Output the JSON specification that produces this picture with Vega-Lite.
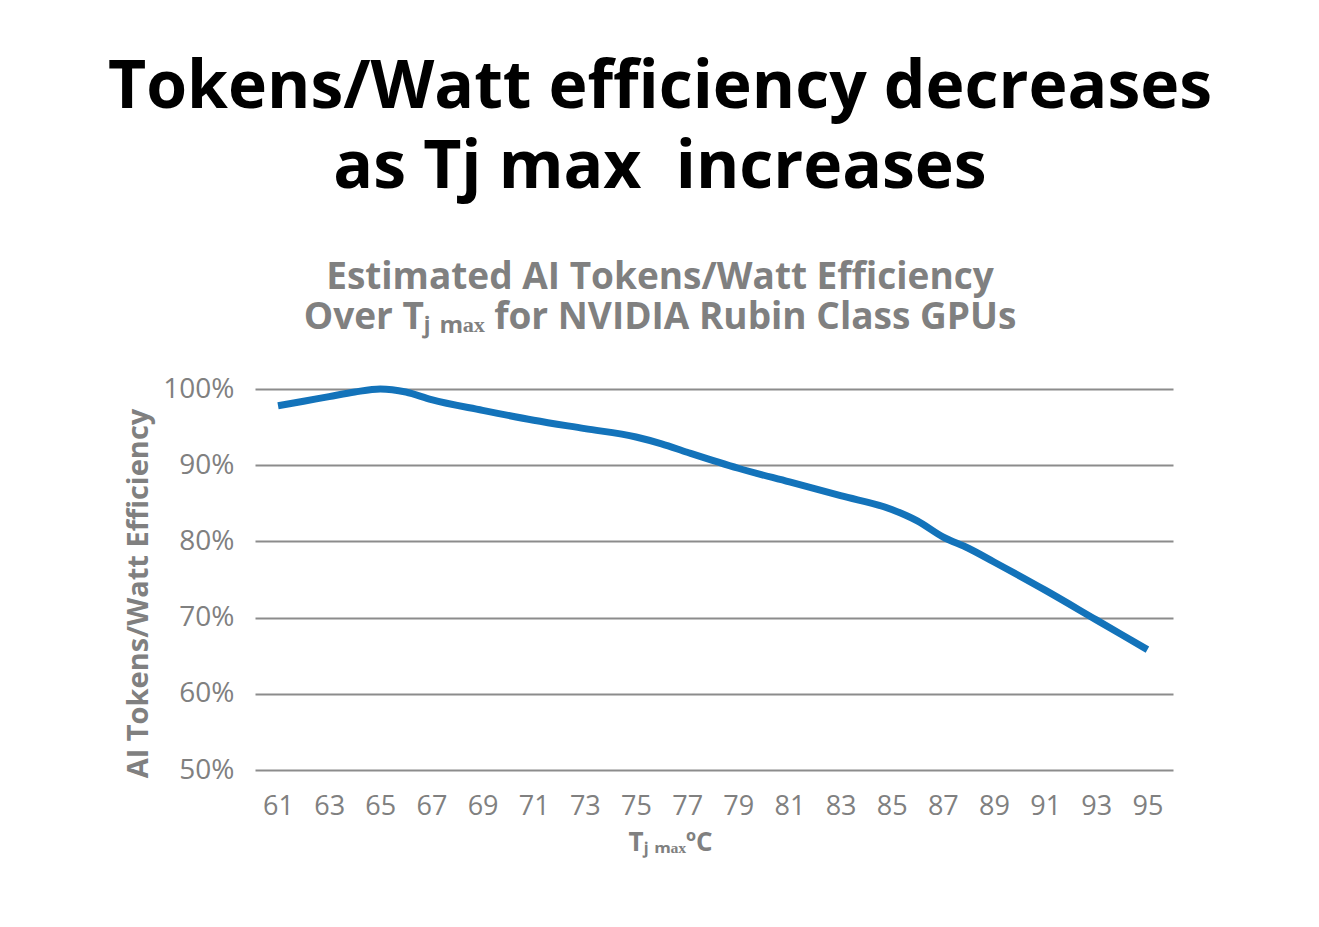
{
  "$schema": "https://vega.github.io/schema/vega-lite/v6.json",
  "width": 918,
  "height": 381,
  "autosize": "none",
  "padding": {"left": 255, "top": 389, "right": 146, "bottom": 157},
  "background": "white",
  "title": {
    "text": ["Tokens/Watt efficiency decreases", "as Tj max\u00a0 increases\u00a0"],
    "subtitle": ["Estimated AI Tokens/Watt Efficiency", "Over Tⱼ ₘₐₓ for NVIDIA Rubin Class GPUs"],
    "anchor": "middle",
    "frame": "group",
    "dx": -54,
    "offset": 38,
    "font": "Open Sans",
    "fontSize": 66,
    "fontWeight": "bold",
    "color": "black",
    "lineHeight": 80,
    "subtitleFont": "Open Sans",
    "subtitleFontSize": 37,
    "subtitleFontWeight": "bold",
    "subtitleColor": "#808080",
    "subtitleLineHeight": 40,
    "subtitlePadding": 58
  },
  "config": {
    "view": {"stroke": null},
    "axis": {
      "labelFont": "Open Sans",
      "labelColor": "#808080",
      "titleFont": "Open Sans",
      "titleFontWeight": "bold",
      "titleColor": "#808080",
      "grid": false,
      "ticks": false,
      "domain": false
    }
  },
  "data": {
    "values": [
      {"tj": 61, "eff": 97.8},
      {"tj": 62, "eff": 98.4},
      {"tj": 63, "eff": 99.0},
      {"tj": 64, "eff": 99.6},
      {"tj": 65, "eff": 100.0},
      {"tj": 66, "eff": 99.6},
      {"tj": 67, "eff": 98.6},
      {"tj": 69, "eff": 97.2},
      {"tj": 71, "eff": 95.9},
      {"tj": 73, "eff": 94.8},
      {"tj": 75, "eff": 93.7},
      {"tj": 76, "eff": 92.8},
      {"tj": 77, "eff": 91.7},
      {"tj": 79, "eff": 89.6},
      {"tj": 81, "eff": 87.8},
      {"tj": 83, "eff": 86.0},
      {"tj": 85, "eff": 84.2},
      {"tj": 86, "eff": 82.7},
      {"tj": 87, "eff": 80.6},
      {"tj": 88, "eff": 79.1},
      {"tj": 89, "eff": 77.3},
      {"tj": 91, "eff": 73.6},
      {"tj": 93, "eff": 69.7},
      {"tj": 95, "eff": 65.8}
    ]
  },
  "mark": {"type": "line", "color": "#1373BA", "strokeWidth": 7, "interpolate": "monotone", "clip": false},
  "encoding": {
    "x": {
      "field": "tj",
      "type": "quantitative",
      "scale": {"domain": [60.1, 96], "nice": false, "zero": false},
      "axis": {
        "values": [61, 63, 65, 67, 69, 71, 73, 75, 77, 79, 81, 83, 85, 87, 89, 91, 93, 95],
        "labelFontSize": 27,
        "labelPadding": 23,
        "title": "Tⱼ ₘₐₓºC",
        "titleFontSize": 26,
        "titlePadding": 10,
        "titleX": 415
      }
    },
    "y": {
      "field": "eff",
      "type": "quantitative",
      "scale": {"domain": [50, 100], "nice": false, "zero": false},
      "axis": {
        "values": [50, 60, 70, 80, 90, 100],
        "labelExpr": "datum.value + '%'",
        "labelFontSize": 28,
        "labelPadding": 21,
        "grid": true,
        "gridColor": "#8c8c8c",
        "gridWidth": 2,
        "title": "AI Tokens/Watt Efficiency",
        "titleFontSize": 29,
        "titlePadding": 9,
        "titleY": 204
      }
    }
  }
}
